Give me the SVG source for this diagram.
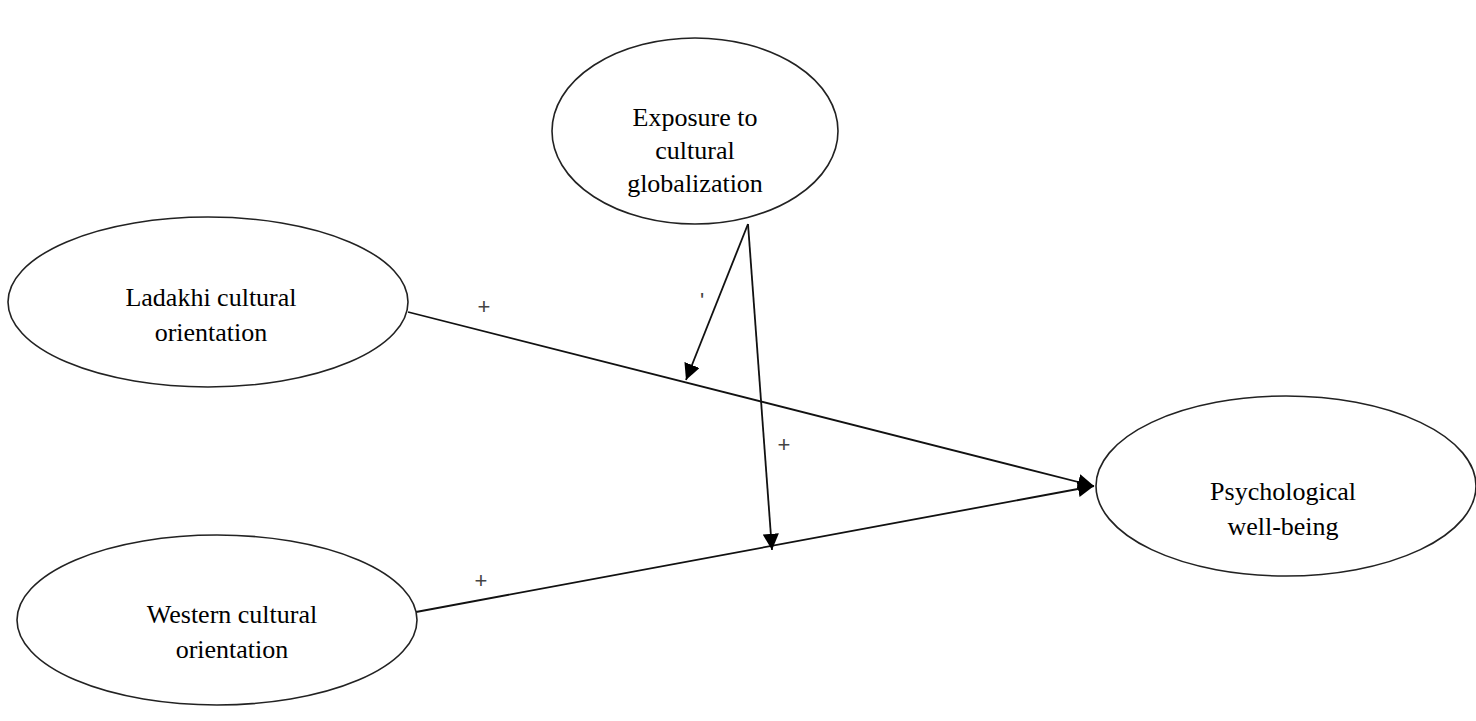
<svg xmlns="http://www.w3.org/2000/svg" width="1476" height="721" viewBox="0 0 1476 721">
<style>
.node{fill:#fff;stroke:#222;stroke-width:1.6}
.t{font-family:"Liberation Serif","Times New Roman",serif;font-size:26px;fill:#000;text-anchor:middle}
.s{font-family:"Liberation Sans",Arial,sans-serif;font-size:22px;fill:#444;text-anchor:middle}
.e{stroke:#111;stroke-width:1.8;fill:none}
</style>
<defs>
<marker id="ah" viewBox="0 0 10 10" refX="10" refY="5" markerWidth="9" markerHeight="9" markerUnits="strokeWidth" orient="auto">
<path d="M0,0 L10,5 L0,10 z" fill="#000"/>
</marker>
</defs>
<rect width="1476" height="721" fill="#fff"/>
<g id="connectors">
<line class="e" x1="408" y1="312" x2="1094" y2="486" marker-end="url(#ah)"/>
<line class="e" x1="416" y1="612" x2="1094" y2="486" marker-end="url(#ah)"/>
<line class="e" x1="748" y1="224" x2="686" y2="380" marker-end="url(#ah)"/>
<line class="e" x1="748" y1="224" x2="772" y2="550" marker-end="url(#ah)"/>
<text class="s" x="484" y="314">+</text>
<text class="s" x="481" y="588">+</text>
<text class="s" x="784" y="452">+</text>
<text class="s" x="702" y="308">'</text>
</g>
<g id="exposure">
<ellipse class="node" cx="695" cy="131" rx="143" ry="93"/>
<text class="t" x="695" y="126">Exposure to</text>
<text class="t" x="695" y="159">cultural</text>
<text class="t" x="695" y="192">globalization</text>
</g>
<g id="ladakhi">
<ellipse class="node" cx="208" cy="302" rx="200" ry="85"/>
<text class="t" x="211" y="306">Ladakhi cultural</text>
<text class="t" x="211" y="341">orientation</text>
</g>
<g id="western">
<ellipse class="node" cx="217" cy="620" rx="200" ry="85"/>
<text class="t" x="232" y="623">Western cultural</text>
<text class="t" x="232" y="658">orientation</text>
</g>
<g id="wellbeing">
<ellipse class="node" cx="1286" cy="486" rx="190" ry="90"/>
<text class="t" x="1283" y="500">Psychological</text>
<text class="t" x="1283" y="535">well-being</text>
</g>
</svg>
